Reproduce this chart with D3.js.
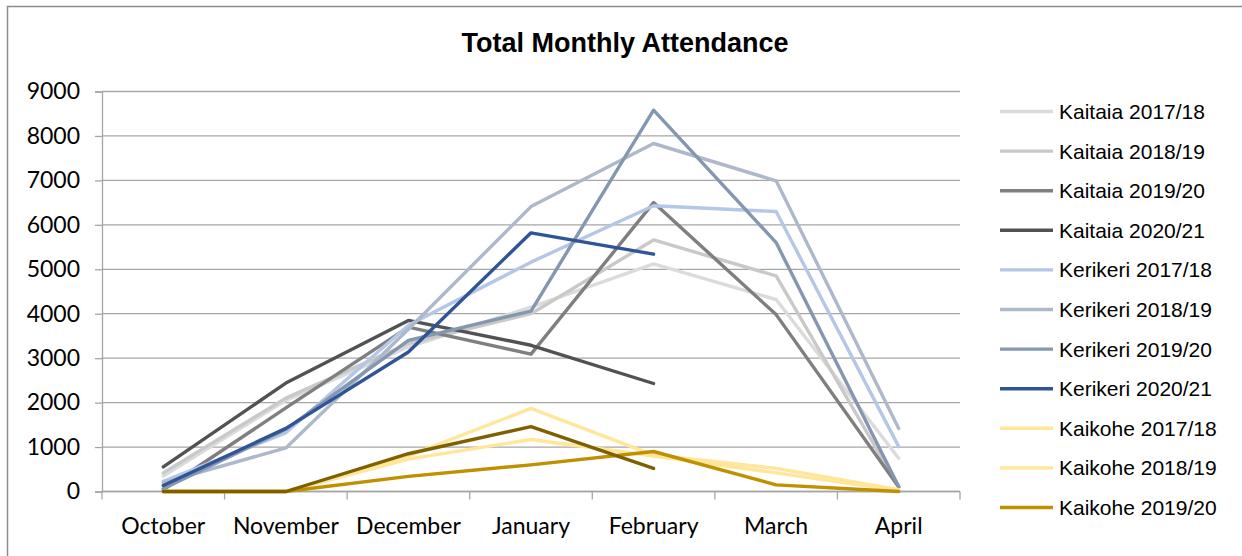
<!DOCTYPE html>
<html>
<head>
<meta charset="utf-8">
<script src="https://cdn.jsdelivr.net/npm/d3@7/dist/d3.min.js"></script>
<style>
  html, body { margin: 0; padding: 0; background: #fff; }
  svg { display: block; }
</style>
</head>
<body>
<svg id="chart" width="1242" height="556"></svg>
<script>
// Months of the season
const months = ["October", "November", "December", "January", "February", "March", "April"];

// Monthly attendance per site and season (null = no data yet)
const kaitaia1718 = [350, 2050, 3250, 4150, 5120, 4320, 750];
const kaitaia1819 = [420, 2100, 3330, 4000, 5660, 4850, 100];
const kaitaia1920 = [40, 1880, 3700, 3090, 6500, 3980, 100];
const kaitaia2021 = [555, 2440, 3850, 3290, 2430, null, null];
const kerikeri1718 = [230, 1320, 3740, 5160, 6430, 6300, 1010];
const kerikeri1819 = [200, 980, 3650, 6410, 7830, 6990, 1420];
const kerikeri1920 = [60, 1400, 3400, 4060, 8580, 5600, 110];
const kerikeri2021 = [135, 1420, 3140, 5820, 5340, null, null];
const kaikohe1718 = [0, 0, 800, 1870, 820, 520, 40];
const kaikohe1819 = [0, 0, 730, 1170, 800, 420, 20];
const kaikohe1920 = [0, 0, 340, 600, 900, 150, 0];
const kaikohe2021 = [0, 0, 850, 1460, 520, null, null];

const seriesNames = [
  "Kaitaia 2017/18", "Kaitaia 2018/19", "Kaitaia 2019/20", "Kaitaia 2020/21",
  "Kerikeri 2017/18", "Kerikeri 2018/19", "Kerikeri 2019/20", "Kerikeri 2020/21",
  "Kaikohe 2017/18", "Kaikohe 2018/19", "Kaikohe 2019/20", "Kaikohe 2020/21"
];
const seriesValues = [
  kaitaia1718, kaitaia1819, kaitaia1920, kaitaia2021,
  kerikeri1718, kerikeri1819, kerikeri1920, kerikeri2021,
  kaikohe1718, kaikohe1819, kaikohe1920, kaikohe2021
];
const seriesColors = [
  "#DBDBDB", "#C9C9C9", "#7F7F7F", "#525252",
  "#B4C7E7", "#ADB9CA", "#8497B0", "#2F5597",
  "#FFE699", "#FFE699", "#BF9000", "#7F6000"
];
const yTicks = [0, 1000, 2000, 3000, 4000, 5000, 6000, 7000, 8000, 9000];

const series = seriesNames.map((name, i) => ({ name, values: seriesValues[i], color: seriesColors[i] }));

const svg = d3.select("#chart");
const W = 1242, H = 556;
const plot = { left: 102, right: 960, top: 91.5, bottom: 491.5 };
const gridColor = "#A6A6A6";
const labelFont = "Lato, 'Open Sans', sans-serif";

// Chart frame
svg.append("path")
  .attr("d", `M7.5,${H} V6.5 H${W}`)
  .attr("fill", "none")
  .attr("stroke", "#8C8C8C")
  .attr("stroke-width", 1.5);

// Title
svg.append("text")
  .attr("x", 625)
  .attr("y", 52)
  .attr("text-anchor", "middle")
  .attr("font-family", "'Liberation Sans', Arial, sans-serif")
  .attr("font-weight", "bold")
  .attr("font-size", 27)
  .attr("fill", "#000")
  .text("Total Monthly Attendance");

const x = d3.scaleBand().domain(months).range([plot.left, plot.right]).padding(0);
const y = d3.scaleLinear().domain([0, 9000]).range([plot.bottom, plot.top]);

// Horizontal gridlines
svg.append("g")
  .selectAll("line")
  .data(yTicks)
  .join("line")
  .attr("x1", plot.left)
  .attr("x2", plot.right)
  .attr("y1", d => y(d))
  .attr("y2", d => y(d))
  .attr("stroke", gridColor)
  .attr("stroke-width", 1.3);

// Y axis
const yAxis = svg.append("g")
  .attr("transform", `translate(${plot.left},0)`)
  .call(d3.axisLeft(y).tickValues(yTicks).tickSize(7).tickPadding(15).tickFormat(d3.format("d")));
yAxis.select(".domain").attr("stroke", gridColor).attr("stroke-width", 1.3);
yAxis.selectAll(".tick line").attr("stroke", gridColor).attr("stroke-width", 1.3);
yAxis.selectAll(".tick text")
  .attr("font-family", labelFont)
  .attr("font-size", 23)
  .attr("fill", "#000");

// X axis, ticks between categories
const boundaries = d3.range(months.length + 1).map(i => plot.left + i * x.bandwidth());
const xg = svg.append("g");
xg.append("line")
  .attr("x1", plot.left).attr("x2", plot.right)
  .attr("y1", plot.bottom).attr("y2", plot.bottom)
  .attr("stroke", gridColor).attr("stroke-width", 1.3);
xg.selectAll("line.tick")
  .data(boundaries)
  .join("line")
  .attr("class", "tick")
  .attr("x1", d => d).attr("x2", d => d)
  .attr("y1", plot.bottom).attr("y2", plot.bottom + 8)
  .attr("stroke", gridColor).attr("stroke-width", 1.3);
xg.selectAll("text")
  .data(months)
  .join("text")
  .attr("x", d => x(d) + x.bandwidth() / 2)
  .attr("y", 534)
  .attr("text-anchor", "middle")
  .attr("font-family", labelFont)
  .attr("font-size", 23)
  .attr("fill", "#000")
  .text(d => d);

// Series lines
const line = d3.line()
  .defined(d => d.v !== null)
  .x(d => x(d.m) + x.bandwidth() / 2)
  .y(d => y(d.v));

svg.append("g")
  .selectAll("path")
  .data(series)
  .join("path")
  .attr("d", s => line(s.values.map((v, i) => ({ m: months[i], v }))))
  .attr("fill", "none")
  .attr("stroke", s => s.color)
  .attr("stroke-width", 3.4)
  .attr("stroke-linejoin", "round")
  .attr("stroke-linecap", "round");

// Legend: as many rows as fit in the chart's legend area
const legendTop = 111.5, rowGap = 39.6, legendBottom = 530;
const legendRows = series.filter((s, i) => legendTop + i * rowGap <= legendBottom);
const lg = svg.append("g");
const rows = lg.selectAll("g")
  .data(legendRows)
  .join("g")
  .attr("transform", (d, i) => `translate(1000,${legendTop + i * rowGap})`);
rows.append("line")
  .attr("x1", 0).attr("x2", 53)
  .attr("y1", 0).attr("y2", 0)
  .attr("stroke", d => d.color)
  .attr("stroke-width", 3.4);
rows.append("text")
  .attr("x", 59)
  .attr("y", 7.5)
  .attr("font-family", "'Liberation Sans', Arial, sans-serif")
  .attr("font-size", 21)
  .attr("fill", "#000")
  .text(d => d.name);
</script>
</body>
</html>
